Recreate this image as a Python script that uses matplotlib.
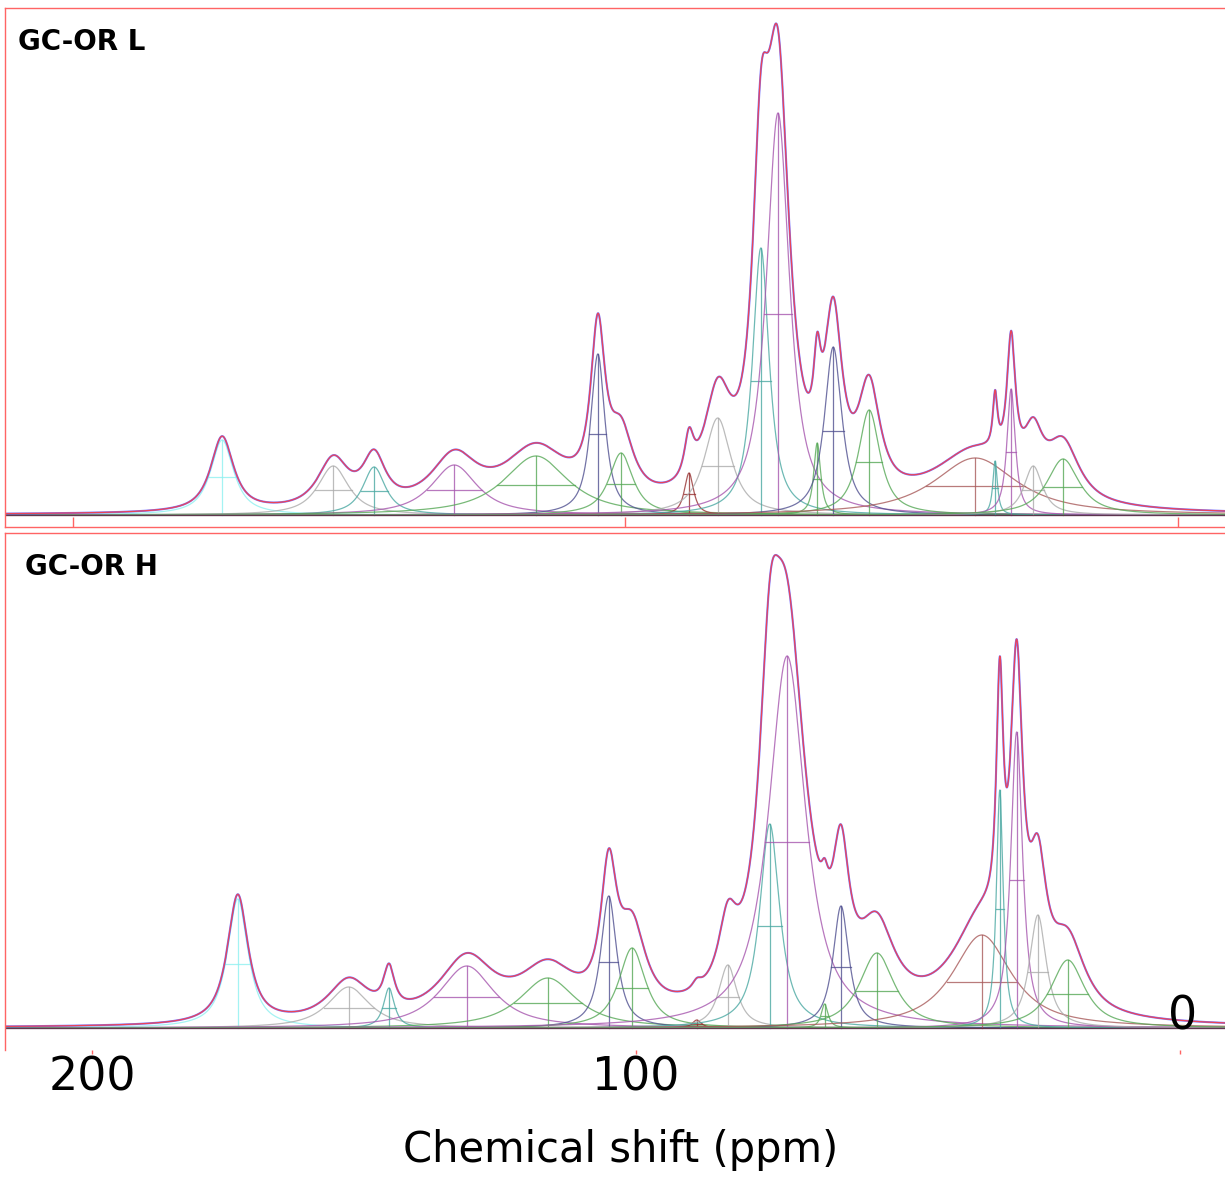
import numpy as np
import matplotlib
matplotlib.use('Agg')
import matplotlib.pyplot as plt

# Deconvolution components: centre (ppm), height, FWHM (ppm)
top_centers = [173.0, 152.9, 145.5, 131.0, 116.2, 105.0, 100.8, 88.5, 83.3, 75.5,
               72.4, 65.3, 62.4, 55.9, 36.7, 33.1, 30.2, 26.2, 20.8]
top_heights = [75, 49, 48, 50, 59, 161, 62, 42, 97, 267,
               402, 72, 168, 105, 57, 54, 126, 49, 56]
top_widths = [5.0, 6.7, 4.9, 10.0, 14.0, 3.1, 5.2, 2.0, 5.8, 3.6,
              5.0, 1.5, 3.8, 4.7, 18.0, 1.0, 1.8, 4.0, 7.0]

bot_centers = [173.2, 152.8, 145.4, 131.1, 116.2, 105.0, 100.7, 88.8, 83.1, 75.4,
               72.2, 65.3, 62.3, 55.7, 36.4, 33.1, 30.0, 26.1, 20.6]
bot_heights = [129, 41, 40, 62, 50, 132, 80, 8, 63, 204,
               372, 24, 122, 75, 93, 238, 296, 113, 68]
bot_widths = [4.6, 9.2, 2.4, 12.0, 12.5, 3.5, 5.9, 2.0, 4.0, 4.4,
              8.1, 1.5, 3.5, 7.7, 13.0, 1.5, 2.6, 3.7, 7.5]

tick_values = [200, 100, 0]
tick_labels = ['200', '100', '']

palette = {'cyan': '#8ef0f0', 'gray': '#ababab', 'teal': '#4aa8a2', 'purple': '#a656ae',
           'green': '#56a856', 'navy': '#505090', 'darkred': '#963030', 'brown': '#a85a5a'}
comp_colors = ['cyan', 'gray', 'teal', 'purple', 'green', 'navy', 'green', 'darkred', 'gray', 'teal',
               'purple', 'green', 'navy', 'green', 'brown', 'teal', 'purple', 'gray', 'green']

ppm = np.linspace(-12, 222, 6000)


def component(x0, h, w, eta=0.9):
    d = (ppm - x0) / (w / 2)
    lor = 1 / (1 + d ** 2)
    gau = np.exp(-np.log(2) * d ** 2)
    return h * (eta * lor + (1 - eta) * gau)


def draw_panel(ax, centers, heights, widths, title, title_xy):
    total = np.zeros_like(ppm)
    for c, h, w, col in zip(centers, heights, widths, comp_colors):
        color = palette[col]
        y = component(c, h, w)
        total += y
        ax.plot(ppm, y, color=color, lw=0.9, alpha=0.8)
        ax.plot([c, c], [0, h], color=color, lw=0.9, alpha=0.8)
        ax.plot([c - w / 2, c + w / 2], [h / 2, h / 2], color=color, lw=0.9, alpha=0.8)
    ax.axhline(0, color='#5a2040', lw=1.0, alpha=0.8)
    ax.plot(ppm, total, color='#4848ff', lw=1.5, alpha=0.75)
    ax.plot(ppm, total, color='#ff3b3b', lw=0.9, alpha=0.85)
    ax.text(title_xy[0], title_xy[1], title, transform=ax.transAxes,
            fontweight='bold', fontsize=20, ha='left', va='baseline')
    for s in ax.spines.values():
        s.set_color('#ff6464')
        s.set_linewidth(1.0)
    ax.spines['right'].set_visible(False)
    ax.set_yticks([])


fig = plt.figure(figsize=(12.25, 11.79), dpi=100)
W, H = 1225, 1179

ax1 = fig.add_axes([5 / W, 1 - 527 / H, 1220 / W, 519 / H])
draw_panel(ax1, top_centers, top_heights, top_widths, 'GC-OR L', (13 / 1220, (527 - 50) / 519))
ax1.set_xlim(212.3, -8.5)
ax1.set_ylim(-12, 507)
ax1.set_xticks(tick_values)
ax1.set_xticklabels([])
ax1.tick_params(axis='x', direction='in', length=7, color='#ff6464', width=1)

ax2 = fig.add_axes([5 / W, 1 - 1050 / H, 1220 / W, 517 / H])
draw_panel(ax2, bot_centers, bot_heights, bot_widths, 'GC-OR H', (20 / 1220, (1050 - 575) / 517))
ax2.set_xlim(216.0, -8.3)
ax2.set_ylim(-22, 495)
ax2.spines['bottom'].set_visible(False)
ax2.set_xticks(tick_values)
ax2.set_xticklabels(tick_labels, fontsize=33)
ax2.tick_params(axis='x', direction='out', length=3, color='#ff6464', width=1, pad=1)
ax2.text(-0.5, 11, '0', fontsize=33, ha='center', va='center')

fig.text(621 / W, 1 - 1150 / H, 'Chemical shift (ppm)', fontsize=30,
         ha='center', va='center')

fig.savefig('out.png', dpi=100)
